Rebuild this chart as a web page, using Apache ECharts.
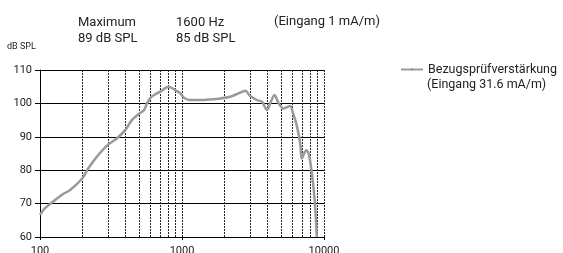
<!DOCTYPE html>
<html>
<head>
<meta charset="utf-8">
<script src="https://cdn.jsdelivr.net/npm/echarts@6/dist/echarts.min.js"></script>
<style>
  html, body { margin: 0; padding: 0; background: #fff; }
  #chart { width: 563px; height: 253px; }
</style>
</head>
<body>
<div id="chart"></div>
<script>
// Frequenzgang (Hz -> dB SPL)
var freqs = [100, 108, 124, 142, 163, 199, 219, 251, 299, 347, 398, 443, 502, 541, 566, 604, 665, 703, 804, 897, 972,
  1026, 1114, 1347, 1584, 1860, 2184, 2500, 2790, 3023, 3375, 3658, 3968, 4180, 4481, 4800, 5200, 5770, 6060, 6420,
  6800, 6980, 7500, 7840, 8270, 8600, 8900];
var dbValues = [66.6, 68.6, 70.6, 72.6, 74.1, 77.6, 80.6, 84.0, 87.5, 89.5, 92, 95, 97, 98, 100, 101.8, 103, 103.5, 105, 104, 103,
  101.8, 101, 101, 101.2, 101.5, 102, 103, 103.8, 102.2, 101, 100.5, 98, 100, 102.5, 100, 98.5, 99.2, 97, 93.5,
  88, 83.5, 86, 84.6, 78, 71, 60];
// vertikale Gitterlinien
var gridFreqs = [200, 300, 400, 500, 600, 700, 800, 900, 1000, 2000, 3000, 4000, 5000, 6000, 7000, 8000, 9000, 10000];
var yTicks = [60, 70, 80, 90, 100, 110];

var seriesName = 'Bezugsprüfverstärkung';
var font = 'Roboto';

var chart = echarts.init(document.getElementById('chart'), null, { renderer: 'canvas' });

var points = freqs.map(function (f, i) { return [f, dbValues[i]]; });

var option = {
  animation: false,
  textStyle: { fontFamily: font },
  grid: { left: 40, top: 70, width: 284, height: 167, containLabel: false, outerBoundsMode: 'none' },
  legend: {
    data: [seriesName],
    left: 395, top: 58,
    itemWidth: 22, itemHeight: 3, itemGap: 4,
    textStyle: { fontFamily: font, fontSize: 12.5, color: '#222' }
  },
  graphic: [
    { type: 'text', left: 78, top: 15, style: { text: 'Maximum\n89 dB SPL', font: '13px Roboto', fill: '#222', lineHeight: 16 } },
    { type: 'text', left: 176, top: 15, style: { text: '1600 Hz\n85 dB SPL', font: '13px Roboto', fill: '#222', lineHeight: 16 } },
    { type: 'text', left: 274, top: 15, style: { text: '(Eingang 1 mA/m)', font: '13px Roboto', fill: '#222' } },
    { type: 'text', left: 7, top: 42, style: { text: 'dB SPL', font: '9px Roboto', fill: '#222' } },
    { type: 'text', left: 427, top: 78, style: { text: '(Eingang 31.6 mA/m)', font: '12.5px Roboto', fill: '#222' } }
  ],
  xAxis: {
    type: 'log',
    logBase: 10,
    min: 100,
    max: 10000,
    axisLine: { lineStyle: { color: '#000', width: 1 } },
    axisTick: { show: true, length: 3, lineStyle: { color: '#000' } },
    axisLabel: {
      fontSize: 11, color: '#222', margin: 9, fontFamily: font,
      formatter: function (v) { return String(Math.round(v)); }
    },
    splitLine: { show: false },
    minorTick: { show: false },
    minorSplitLine: { show: false }
  },
  yAxis: {
    type: 'value',
    min: yTicks[0],
    max: yTicks[yTicks.length - 1],
    interval: 10,
    axisLine: { show: true, lineStyle: { color: '#000', width: 1 } },
    axisTick: { show: true, length: 5, lineStyle: { color: '#000' } },
    axisLabel: { fontSize: 11, color: '#222', margin: 8, fontFamily: font },
    splitLine: { show: true, lineStyle: { color: '#000', width: 1 } }
  },
  series: [{
    name: seriesName,
    type: 'line',
    data: points,
    showSymbol: false,
    symbol: 'none',
    smooth: 0.3,
    lineStyle: { color: '#9a9a9a', width: 2.5 },
    itemStyle: { color: '#9a9a9a' },
    z: 5,
    markLine: {
      silent: true,
      symbol: 'none',
      label: { show: false },
      lineStyle: { color: '#222', width: 1, type: [2, 1] },
      data: gridFreqs.map(function (f) { return { xAxis: f }; })
    }
  }]
};

chart.setOption(option);
</script>
</body>
</html>
